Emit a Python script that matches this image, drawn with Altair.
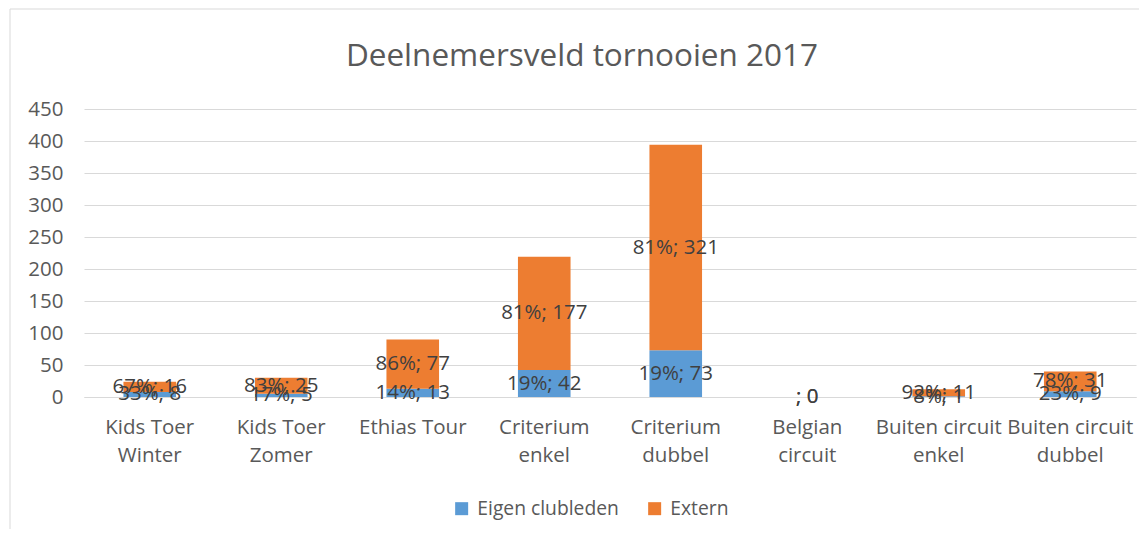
import math
import altair as alt
import pandas as pd

categories = ["Kids Toer\nWinter", "Kids Toer\nZomer", "Ethias Tour", "Criterium\nenkel",
              "Criterium\ndubbel", "Belgian\ncircuit", "Buiten circuit\nenkel", "Buiten circuit\ndubbel"]
eigen = [8, 5, 13, 42, 73, 0, 1, 9]
extern = [16, 25, 77, 177, 321, 0, 11, 31]
series_names = ["Eigen clubleden", "Extern"]
series_colors = ["#5B9BD5", "#ED7D31"]
y_ticks = [0, 50, 100, 150, 200, 250, 300, 350, 400, 450]

rows = []
for i, cat in enumerate(categories):
    total = eigen[i] + extern[i]
    for s, (name, vals) in enumerate(zip(series_names, [eigen, extern])):
        v = vals[i]
        pct = f"{math.floor(v / total * 100 + 0.5)}%" if total else ""
        rows.append({"cat": cat, "series": name, "order": s, "value": v, "label": f"{pct}; {v}"})
df = pd.DataFrame(rows)

FONT = "Open Sans"
TXT = "#595959"
FS = 20.5

x_enc = alt.X("cat:N", sort=categories, title=None,
              scale=alt.Scale(paddingInner=0.6, paddingOuter=0.3),
              axis=alt.Axis(labelExpr="split(datum.value, '\\n')", labelAngle=0, labelLineHeight=28,
                            labelPadding=20, ticks=False, domainColor="#d9d9d9", labelOverlap=False,
                            labelLimit=300, grid=False))
y_axis = alt.Axis(values=y_ticks, domain=False, ticks=False, labelPadding=21,
                  gridColor="#d9d9d9", gridWidth=1, labelOverlap=False, tickCount=10)
y_scale = alt.Scale(domain=[0, 450], nice=False)

bars = alt.Chart(df).mark_bar().encode(
    x=x_enc,
    y=alt.Y("value:Q", stack="zero", scale=y_scale, title=None, axis=y_axis),
    color=alt.Color("series:N", sort=series_names,
                    scale=alt.Scale(domain=series_names, range=series_colors),
                    legend=alt.Legend(title=None, orient="none", legendX=368, legendY=390,
                                      direction="horizontal", symbolType="square", symbolSize=169,
                                      symbolStrokeWidth=0, labelFontSize=19.3, labelFont=FONT,
                                      labelColor=TXT, columnPadding=26, symbolOffset=0,
                                      labelOffset=6)),
    order=alt.Order("order:Q"),
)

labels = alt.Chart(df).transform_stack(
    stack="value", groupby=["cat"], as_=["y0", "y1"], sort=[alt.SortField("order")]
).transform_calculate(
    mid="(datum.y0 + datum.y1) / 2"
).mark_text(font=FONT, fontSize=FS, color="#404040", baseline="middle", align="center").encode(
    x=x_enc,
    y=alt.Y("mid:Q", scale=y_scale, title=None, axis=y_axis),
    text="label:N",
)

border = alt.Chart(alt.Data(values=[{"a": 1}])).mark_rect(fill=None, stroke="#d9d9d9", strokeWidth=1).encode(
    x=alt.value(-74), x2=alt.value(1200), y=alt.value(-100), y2=alt.value(600)
)

chart = alt.layer(border, bars, labels).properties(
    width=1052, height=288,
    title=alt.TitleParams("Deelnemersveld tornooien 2017", font=FONT, fontSize=31.5, fontWeight="normal",
                          color=TXT, anchor="middle", offset=-64, dx=-28),
    autosize=alt.AutoSizeParams(type="none"),
    padding={"left": 76, "top": 101, "right": 3, "bottom": 132},
).configure_axis(
    labelFont=FONT, labelFontSize=FS, labelColor=TXT
).configure_view(stroke=None)

chart.save("out.html", embed_options={"renderer": "svg", "actions": False})
